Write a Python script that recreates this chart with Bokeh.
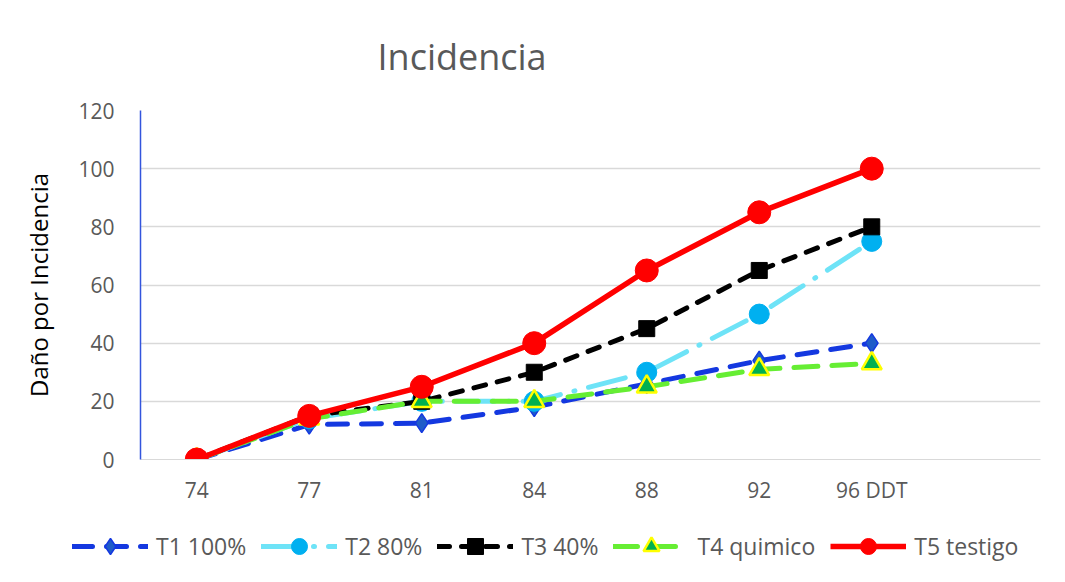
from bokeh.plotting import figure
from bokeh.layouts import column
from bokeh.models import FactorRange, Range1d, SingleIntervalTicker, Legend, LegendItem
from bokeh.embed import file_html
from bokeh.resources import INLINE

categories = ["74", "77", "81", "84", "88", "92", "96 DDT", ""]
days = categories[:7]
t1 = [0, 12, 12.5, 18, 26, 34, 40]
t2 = [0, 14, 20, 20, 30, 50, 75]
t3 = [0, 15, 20, 30, 45, 65, 80]
t4 = [0, 14, 20, 20, 25, 31, 33]
t5 = [0, 15, 25, 40, 65, 85, 100]
names = ["T1 100%", "T2 80%", "T3 40%", "T4 quimico", "T5 testigo"]

FONT = "Open Sans"
GRAY = "#595959"

LINE_STYLES = [
    dict(line_color="#1438e0", line_width=5, line_dash="20 14", line_cap="round"),
    dict(line_color="#6ee3f7", line_width=5, line_dash="38 14 1 14", line_cap="round"),
    dict(line_color="black", line_width=5, line_dash="12 12", line_cap="round"),
    dict(line_color="#66ee33", line_width=5, line_dash="24 14", line_cap="round"),
    dict(line_color="#ff0000", line_width=5.5),
]
MARKER_STYLES = [
    dict(marker="diamond", size=19, fill_color="#1f5cc8", line_color="#1438e0", line_width=1.5),
    dict(marker="circle", size=20, fill_color="#00b0f0", line_color="#00b0f0"),
    dict(marker="square", size=16, fill_color="black", line_color="black"),
    dict(marker="triangle", size=20, fill_color="#00b050", line_color="#ffff00", line_width=2.5),
    dict(marker="circle", size=23, fill_color="#ff0000", line_color="#ff0000"),
]
series = [t1, t2, t3, t4, t5]

p = figure(width=1049, height=516, output_backend="svg", toolbar_location=None,
           x_range=FactorRange(factors=categories, range_padding=0),
           y_range=Range1d(0, 120),
           title="Incidencia",
           min_border_left=140, min_border_right=9, min_border_top=110, min_border_bottom=57)
p.frame_align = False
p.outline_line_color = None
p.background_fill_color = "white"
p.border_fill_color = "white"

p.title.text_font = FONT
p.title.text_font_size = "36px"
p.title.text_font_style = "normal"
p.title.text_color = GRAY
p.title.align = "left"
p.title.offset = 237
p.title.standoff = 59

p.xgrid.grid_line_color = None
p.ygrid.grid_line_color = "#d9d9d9"
p.ygrid.grid_line_width = 1.5

p.yaxis.ticker = SingleIntervalTicker(interval=20)
p.yaxis.axis_line_color = "#3355dd"
p.yaxis.axis_line_width = 1.5
p.yaxis.major_tick_line_color = None
p.yaxis.minor_tick_line_color = None
p.yaxis.major_label_standoff = 20
p.yaxis.major_label_text_font = FONT
p.yaxis.major_label_text_font_size = "21px"
p.yaxis.major_label_text_color = GRAY
p.yaxis.axis_label = "Daño por Incidencia"
p.yaxis.axis_label_text_font = FONT
p.yaxis.axis_label_text_font_size = "24px"
p.yaxis.axis_label_text_font_style = "normal"
p.yaxis.axis_label_text_color = "black"
p.yaxis.axis_label_standoff = 20

p.xaxis.axis_line_color = "#d9d9d9"
p.xaxis.major_tick_line_color = None
p.xaxis.minor_tick_line_color = None
p.xaxis.major_label_standoff = 10
p.xaxis.major_label_text_font = FONT
p.xaxis.major_label_text_font_size = "21px"
p.xaxis.major_label_text_color = GRAY

for vals, ls, ms in zip(series, LINE_STYLES, MARKER_STYLES):
    p.line(days, vals, **ls)
    p.scatter(days, vals, **ms)

# legend-only strip below the chart (its sample glyphs sit outside the visible range)
lg = figure(width=1049, height=50, output_backend="svg", toolbar_location=None,
            x_range=Range1d(0, 1), y_range=Range1d(0, 1),
            x_axis_type=None, y_axis_type=None,
            min_border_left=0, min_border_right=0, min_border_top=0, min_border_bottom=0)
lg.frame_align = False
lg.outline_line_color = None
lg.xgrid.visible = False
lg.ygrid.visible = False
items = []
for name, ls, ms in zip(names, LINE_STYLES, MARKER_STYLES):
    rl = lg.line([-5, -4], [-5, -4], **ls)
    rm = lg.scatter([-5], [-5], **ms)
    items.append(LegendItem(label=name, renderers=[rl, rm]))
legend = Legend(items=items, orientation="horizontal", location=(72, 0),
                glyph_width=76, glyph_height=40, label_standoff=8, spacing=15,
                padding=0, margin=0, border_line_color=None, background_fill_alpha=0,
                label_text_font=FONT, label_text_font_size="23px", label_text_color=GRAY)
lg.add_layout(legend, "center")

layout = column(p, lg, spacing=0)
open("out.html", "w").write(file_html(layout, INLINE))
